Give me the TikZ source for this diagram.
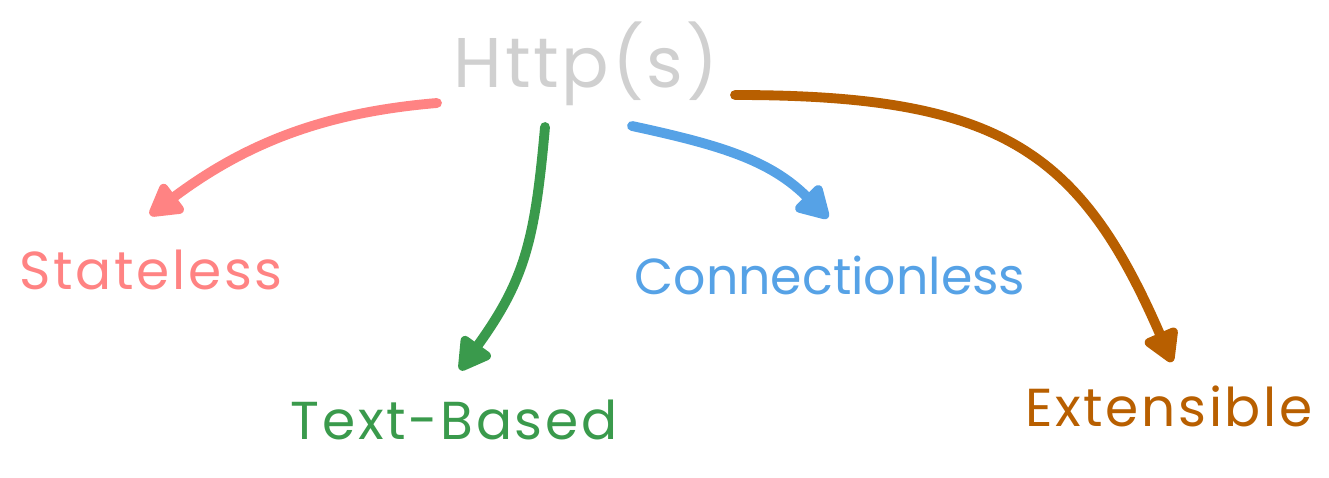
\documentclass[tikz,border=0pt]{standalone}
\usepackage{fontspec}
\setmainfont{Poppins}
\usetikzlibrary{arrows.meta}

\definecolor{httpgray}{HTML}{D0D0D0}
\definecolor{statered}{HTML}{FF8383}
\definecolor{textgreen}{HTML}{3A9A4C}
\definecolor{connblue}{HTML}{56A2E6}
\definecolor{extbrown}{HTML}{B85F00}

\tikzset{
  lbl/.style={text=#1, inner sep=0pt,
    font=\fontsize{38}{44}\selectfont\addfontfeatures{LetterSpace=5}},
  branch/.style={draw=#1, line width=7pt, line cap=round,
    -{Triangle[length=26pt,width=28pt,round]}}
}

\begin{document}
\begin{tikzpicture}[x=0.025cm,y=-0.025cm]
\useasboundingbox (0,0) rectangle (1329,478);

% root and leaves
\node[lbl=httpgray, font=\fontsize{50}{56}\selectfont\addfontfeatures{LetterSpace=4}] (http) at (586,64) {Http(s)};
\node[lbl=statered] (stateless) at (151,270) {Stateless};
\node[lbl=textgreen] (textbased) at (454,420) {Text-Based};
\node[lbl=connblue, font=\fontsize{36}{42}\selectfont] (connless) at (830,275) {Connectionless};
\node[lbl=extbrown] (extensible) at (1169,406) {Extensible};

% arrow ends
\coordinate (red-from) at (437,103);
\coordinate (red-to) at (150,215);
\coordinate (green-from) at (545,127);
\coordinate (green-to) at (460,370);
\coordinate (blue-from) at (632,126);
\coordinate (blue-to) at (828,218);
\coordinate (brown-from) at (735,95);
\coordinate (brown-to) at (1172,362);

\draw[branch=statered] (red-from) .. controls (330,112) and (250,140) .. (red-to);
\draw[branch=textgreen] (green-from) .. controls (535,240) and (525,280) .. (green-to);
\draw[branch=connblue] (blue-from) .. controls (720,145) and (770,160) .. (blue-to);
\draw[branch=extbrown] (brown-from) .. controls (1000,95) and (1080,150) .. (brown-to);
\end{tikzpicture}
\end{document}
